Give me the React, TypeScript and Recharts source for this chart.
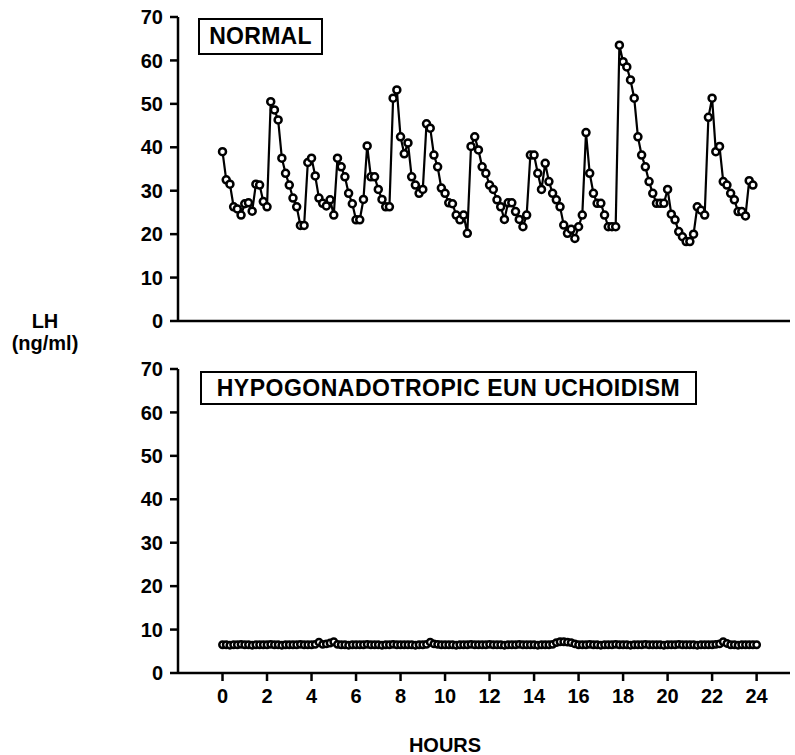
import React from 'react';
import { LineChart, Line, XAxis, YAxis } from 'recharts';

// LH sampled every 10 minutes over 24 hours
const SAMPLE_MINUTES = 10;

const normalLH = [
  39, 32.5, 31.5, 26.3, 25.8, 24.4, 27, 27.2, 25.3, 31.5, 31.3, 27.5,
  26.3, 50.5, 48.6, 46.3, 37.5, 34, 31.3, 28.3, 26.3, 22, 22, 36.5,
  37.5, 33.4, 28.3, 27.1, 26.5, 27.9, 24.4, 37.5, 35.5, 33.2, 29.4, 27,
  23.3, 23.3, 28, 40.3, 33.2, 33.2, 30.3, 28, 26.3, 26.3, 51.3, 53.2,
  42.4, 38.5, 41, 33.2, 31.3, 29.4, 30.3, 45.4, 44.4, 38.2, 35.5, 30.6,
  29.4, 27.2, 27, 24.4, 23.3, 24.4, 20.2, 40.2, 42.4, 39.4, 35.5, 34,
  31.3, 30.3, 27.9, 26.3, 23.4, 27.2, 27.2, 25.2, 23.4, 21.7, 24.4, 38.2,
  38.2, 34, 30.3, 36.3, 32.1, 29.4, 27.9, 26.3, 22.1, 20.2, 21.1, 19,
  21.7, 24.4, 43.4, 34, 29.4, 27.1, 27.1, 24.4, 21.7, 21.7, 21.7, 63.5,
  59.7, 58.5, 55.5, 51.3, 42.4, 38.2, 35.5, 32.1, 29.4, 27.1, 27.1, 27.1,
  30.3, 24.6, 23.3, 20.6, 19.4, 18.3, 18.3, 20, 26.3, 25.5, 24.4, 46.9,
  51.3, 39, 40.2, 32.1, 31.3, 29.4, 27.9, 25.2, 25.2, 24.2, 32.3, 31.3,
];

const hypoLH = [
  6.5, 6.5, 6.4, 6.5, 6.5, 6.6, 6.5, 6.5, 6.4, 6.5, 6.5, 6.5,
  6.5, 6.6, 6.5, 6.5, 6.4, 6.5, 6.5, 6.5, 6.5, 6.6, 6.5, 6.5,
  6.5, 6.6, 7.1, 6.6, 6.7, 6.9, 7.2, 6.6, 6.5, 6.5, 6.4, 6.5,
  6.5, 6.5, 6.5, 6.6, 6.5, 6.5, 6.5, 6.4, 6.5, 6.5, 6.6, 6.5,
  6.5, 6.5, 6.5, 6.5, 6.4, 6.5, 6.5, 6.6, 7.1, 6.7, 6.6, 6.5,
  6.5, 6.5, 6.5, 6.4, 6.5, 6.5, 6.5, 6.6, 6.5, 6.5, 6.5, 6.5,
  6.6, 6.5, 6.5, 6.5, 6.4, 6.5, 6.5, 6.5, 6.6, 6.5, 6.5, 6.5,
  6.5, 6.4, 6.5, 6.5, 6.5, 6.6, 7.0, 7.2, 7.2, 7.1, 7.0, 6.7,
  6.5, 6.5, 6.5, 6.6, 6.5, 6.5, 6.4, 6.5, 6.5, 6.5, 6.6, 6.5,
  6.5, 6.5, 6.4, 6.5, 6.5, 6.5, 6.6, 6.5, 6.5, 6.5, 6.5, 6.4,
  6.5, 6.5, 6.5, 6.6, 6.5, 6.5, 6.5, 6.5, 6.4, 6.5, 6.5, 6.5,
  6.5, 6.6, 6.7, 7.2, 6.8, 6.5, 6.5, 6.4, 6.5, 6.5, 6.5, 6.5,
  6.5,
];

const yTicks = [0, 10, 20, 30, 40, 50, 60, 70];
const topXTicks = [-2, 0, 2, 4, 6, 8, 10, 12, 14, 16, 18, 20, 22, 24];
const hourTicks = [0, 2, 4, 6, 8, 10, 12, 14, 16, 18, 20, 22, 24];
const panelTitles = ['NORMAL', 'HYPOGONADOTROPIC EUN UCHOIDISM'];
const xTitle = 'HOURS';
const yTitle = ['LH', '(ng/ml)'];

const toRows = (vals: number[]) =>
  vals.map((v, i) => ({ h: (i * SAMPLE_MINUTES) / 60, lh: v }));

const FONT = '"Liberation Sans", Arial, Helvetica, sans-serif';
const tickStyle = { fill: '#000', fontSize: 20, fontWeight: 700, fontFamily: FONT };
const axisLine = { stroke: '#000', strokeWidth: 2.5 };

function Panel({ data, showLabels, height, marginTop, xHeight, marginBottom, r }: any) {
  return (
    <LineChart
      width={795}
      height={height}
      data={data}
      margin={{ top: marginTop, right: 5, bottom: marginBottom, left: 0 }}
    >
      <XAxis
        dataKey="h"
        type="number"
        domain={[-2, 25.5]}
        ticks={showLabels ? hourTicks : topXTicks}
        interval={0}
        height={xHeight}
        tickSize={8}
        tickMargin={8}
        axisLine={axisLine}
        tickLine={axisLine}
        tick={showLabels ? tickStyle : false}
        allowDataOverflow
      />
      <YAxis
        type="number"
        domain={[0, 70]}
        ticks={yTicks}
        interval={0}
        width={178}
        tickSize={8}
        tickMargin={7}
        axisLine={axisLine}
        tickLine={axisLine}
        tick={tickStyle}
      />
      <Line
        dataKey="lh"
        type="linear"
        stroke="#000"
        strokeWidth={2.2}
        dot={{ r, fill: '#fff', stroke: '#000', strokeWidth: 2.5 }}
        isAnimationActive={false}
      />
    </LineChart>
  );
}

export default function App() {
  const top = toRows(normalLH);
  const bottom = toRows(hypoLH);
  return (
    <div style={{ position: 'absolute', left: 0, top: 0, width: 795, height: 755, background: '#fff', fontFamily: FONT }}>
      <div style={{ position: 'absolute', left: 0, top: 0 }}>
        <Panel data={top} showLabels={false} height={340} marginTop={17} xHeight={19} marginBottom={0} r={3.5} />
      </div>
      <div style={{ position: 'absolute', left: 0, top: 350 }}>
        <Panel data={bottom} showLabels={true} height={405} marginTop={19} xHeight={50} marginBottom={32} r={3.2} />
      </div>
      <div
        style={{
          position: 'absolute', left: 198, top: 18, width: 125, height: 37, boxSizing: 'border-box',
          border: '2px solid #000', background: '#fff', display: 'flex', alignItems: 'center',
          justifyContent: 'center', fontSize: 23, fontWeight: 700, letterSpacing: 0.3, lineHeight: 1,
        }}
      >
        {panelTitles[0]}
      </div>
      <div
        style={{
          position: 'absolute', left: 200, top: 371, width: 497, height: 34, boxSizing: 'border-box',
          border: '2px solid #000', background: '#fff', display: 'flex', alignItems: 'center',
          justifyContent: 'center', fontSize: 23, fontWeight: 700, letterSpacing: 0.5, lineHeight: 1,
          whiteSpace: 'nowrap',
        }}
      >
        {panelTitles[1]}
      </div>
      <div
        style={{
          position: 'absolute', left: 0, top: 310, width: 90, textAlign: 'center',
          fontSize: 20, fontWeight: 700, lineHeight: '22px',
        }}
      >
        <div>{yTitle[0]}</div>
        <div>{yTitle[1]}</div>
      </div>
      <div
        style={{
          position: 'absolute', left: 345, top: 734, width: 200, textAlign: 'center',
          fontSize: 20, fontWeight: 700, lineHeight: '22px',
        }}
      >
        {xTitle}
      </div>
    </div>
  );
}
